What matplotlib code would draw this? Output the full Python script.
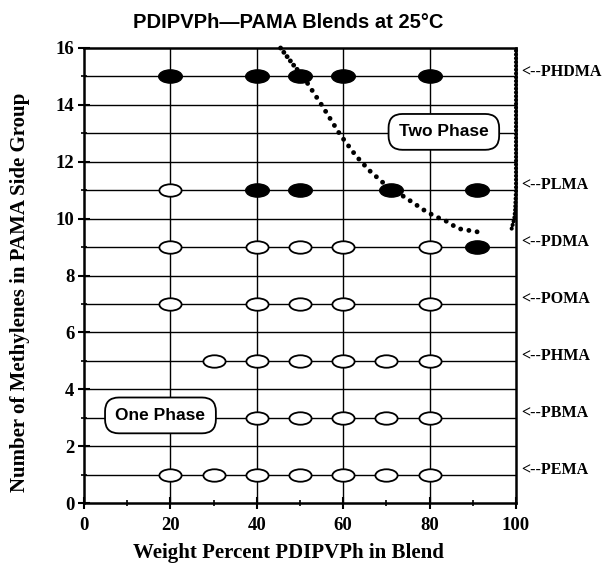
import numpy as np
import matplotlib
matplotlib.use("Agg")
import matplotlib.pyplot as plt
from matplotlib.path import Path
from matplotlib.ticker import MultipleLocator

# ---------------- data ----------------
polymers = ["PEMA", "PBMA", "PHMA", "POMA", "PDMA", "PLMA", "PHDMA"]
methylenes = [1, 3, 5, 7, 9, 11, 15]

# one-phase (open) blends: weight % PDIPVPh for each polymer
open_x = {
    "PEMA": [20, 30, 40, 50, 60, 70, 80],
    "PBMA": [40, 50, 60, 70, 80],
    "PHMA": [30, 40, 50, 60, 70, 80],
    "POMA": [20, 40, 50, 60, 80],
    "PDMA": [20, 40, 50, 60, 80],
    "PLMA": [20],
    "PHDMA": [],
}
# two-phase (filled) blends
filled_x = {
    "PEMA": [], "PBMA": [], "PHMA": [], "POMA": [],
    "PDMA": [91],
    "PLMA": [40, 50, 71, 91],
    "PHDMA": [20, 40, 50, 60, 80],
}

# phase boundary (dotted), estimated control points
boundary_top_x = [45.5, 47.0, 48.5, 50.7]
boundary_top_y = [16.0, 15.7, 15.4, 15.0]
boundary_x = [50.7, 55.0, 59.3, 63.0, 66.0, 69.7, 74.8, 78.7, 81.0, 84.0, 86.6, 92.4]
boundary_y = [15.0, 14.0, 12.95, 12.2, 11.7, 11.2, 10.7, 10.3, 10.1, 9.9, 9.65, 9.5]
right_bx = [99.0, 99.6, 99.8, 100.0, 100.0]
right_by = [9.65, 10.0, 10.3, 11.0, 16.0]

x_ticks = [0, 20, 40, 60, 80, 100]
y_ticks = [0, 2, 4, 6, 8, 10, 12, 14, 16]

# ---------------- figure ----------------
fig = plt.figure(figsize=(6.10, 5.66), dpi=100)
ax = fig.add_axes([84/610, 1-503/566, (516-84)/610, (503-48)/566])
ax.set_xlim(0, 100)
ax.set_ylim(0, 16)

serif = "Liberation Serif"
sans = "Liberation Sans"

# grid lines
for yy in range(1, 16):
    ax.axhline(yy, color="black", lw=1.0, zorder=1)
for xx in [20, 40, 60, 80]:
    ax.axvline(xx, color="black", lw=1.0, zorder=1)

for s in ax.spines.values():
    s.set_linewidth(1.8)

ax.set_xticks(x_ticks)
ax.set_yticks(y_ticks)
ax.xaxis.set_minor_locator(MultipleLocator(10))
ax.yaxis.set_minor_locator(MultipleLocator(1))
ax.tick_params(axis="both", which="major", direction="inout", length=8, width=1.5,
               labelsize=13.5, pad=3)
ax.tick_params(axis="both", which="minor", direction="inout", length=5, width=1.2)
ax.tick_params(axis="x", pad=6)
for lab in ax.get_xticklabels() + ax.get_yticklabels():
    lab.set_fontfamily(serif)
    lab.set_fontweight("bold")

# ellipse marker
circ = Path.unit_circle()
ell = Path(circ.vertices * np.array([1.0, 0.56]), circ.codes)

for name, yv in zip(polymers, methylenes):
    xs = open_x[name]
    if xs:
        ax.plot(xs, [yv]*len(xs), ls="none", marker=ell, ms=16, mfc="white",
                mec="black", mew=1.3, zorder=4)
    xs = filled_x[name]
    if xs:
        ax.plot(xs, [yv]*len(xs), ls="none", marker=ell, ms=17, mfc="black",
                mec="black", mew=1.0, zorder=4)

# boundary dotted curves
ax.plot(boundary_top_x, boundary_top_y, color="black", lw=3.5,
        ls=(0, (0.01, 1.1)), dash_capstyle="round", zorder=5, clip_on=False)
ax.plot(boundary_x, boundary_y, color="black", lw=3.5,
        ls=(0, (0.01, 1.7)), dash_capstyle="round", zorder=5, clip_on=False)
ax.plot(right_bx, right_by, color="black", lw=3.0,
        ls=(0, (0.01, 0.9)), dash_capstyle="round", zorder=5, clip_on=False)

# right-hand labels
for name, yv in zip(polymers, methylenes):
    ax.annotate("<--" + name, xy=(100, yv + 0.17), xytext=(4, 0),
                textcoords="offset points", ha="left", va="center",
                fontfamily=serif, fontweight="bold", fontsize=11.5,
                annotation_clip=False)

# region labels
box = dict(boxstyle="round,pad=0.6,rounding_size=0.8", fc="white", ec="black", lw=1.3)
ax.text(83.3, 13.05, "Two Phase", ha="center", va="center", fontfamily=sans,
        fontweight="bold", fontsize=12.5, bbox=box, zorder=6)
ax.text(17.7, 3.08, "One Phase", ha="center", va="center", fontfamily=sans,
        fontweight="bold", fontsize=12.5, bbox=box, zorder=6)

# titles
fig.text(288/610, 1-22/566, "PDIPVPh\u2014PAMA Blends at 25\u00b0C", ha="center",
         va="center", fontfamily=sans, fontweight="bold", fontsize=14.5)
fig.text(288/610, 1-553/566, "Weight Percent PDIPVPh in Blend", ha="center",
         va="center", fontfamily=serif, fontweight="bold", fontsize=15)
fig.text(20/610, 1-292/566, "Number of Methylenes in PAMA Side Group", ha="center",
         va="center", rotation=90, fontfamily=serif, fontweight="bold", fontsize=15)

fig.savefig("out.png", dpi=100)
